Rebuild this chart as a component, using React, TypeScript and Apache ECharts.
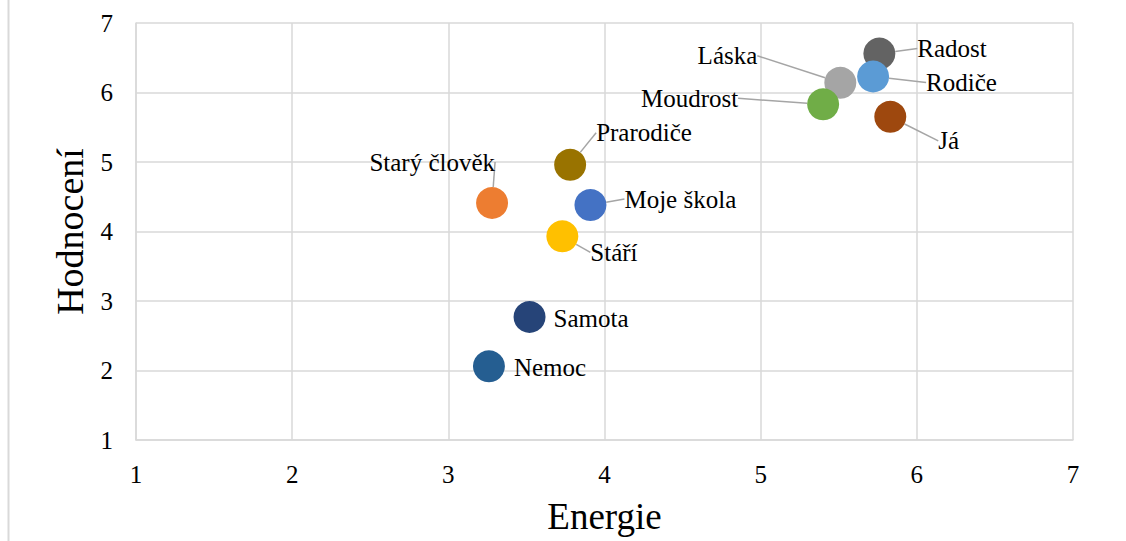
import React, { useEffect, useRef } from "react";
import * as echarts from "echarts";

const names = ["Radost", "Láska", "Rodiče", "Moudrost", "Já", "Prarodiče", "Starý člověk", "Moje škola", "Stáří", "Samota", "Nemoc"];
const energie = [5.76, 5.51, 5.72, 5.40, 5.83, 3.78, 3.28, 3.91, 3.73, 3.52, 3.26];
const hodnoceni = [6.56, 6.14, 6.23, 5.83, 5.65, 4.96, 4.41, 4.38, 3.93, 2.77, 2.06];
const colors = ["#636363", "#a5a5a5", "#5b9bd5", "#70ad47", "#9e480e", "#997300", "#ed7d31", "#4472c4", "#ffc000", "#264478", "#255e91"];
const ticks = [1, 2, 3, 4, 5, 6, 7];

// label placement (position side, offsets, leader line)
const labelPos: Record<string, [string, number, number, boolean]> = {
  "Radost": ["right", 17, -5, true],
  "Láska": ["left", -62, -27, true],
  "Rodiče": ["right", 32, 6, true],
  "Moudrost": ["left", -64, -6, true],
  "Já": ["right", 27, 24, true],
  "Prarodiče": ["right", 5, -32, true],
  "Starý člověk": ["left", 24, -41, true],
  "Moje škola": ["right", 13, -6, true],
  "Stáří": ["right", 7, 16, true],
  "Samota": ["right", 3, 2, false],
  "Nemoc": ["right", 4, 1, false],
};

const FONT = "'Liberation Serif', 'Times New Roman', serif";

export default function App() {
  const ref = useRef<HTMLDivElement>(null);
  useEffect(() => {
    document.body.style.margin = "0";
    const chart = echarts.init(ref.current!, null, { renderer: "svg" });
    const data = names.map((n, i) => {
      const p = labelPos[n];
      return {
        name: n,
        value: [energie[i], hodnoceni[i]],
        itemStyle: { color: colors[i], opacity: 1 },
        label: { position: p[0] },
        labelLine: { show: p[3] },
      };
    });
    chart.setOption({
      animation: false,
      backgroundColor: "#ffffff",
      grid: { left: 136, right: 53, top: 23, bottom: 101 },
      graphic: [
        { type: "line", shape: { x1: 8.5, y1: 0, x2: 8.5, y2: 541 }, style: { stroke: "#d9d9d9", lineWidth: 2 } },
      ],
      xAxis: {
        type: "value",
        min: 1,
        max: 7,
        interval: 1,
        name: "Energie",
        nameLocation: "middle",
        nameGap: 58,
        nameTextStyle: { fontFamily: FONT, fontSize: 37, color: "#000" },
        axisLine: { show: true, lineStyle: { color: "#d9d9d9", width: 1.5 } },
        axisTick: { show: false },
        splitLine: { show: true, lineStyle: { color: "#d9d9d9", width: 1.5 } },
        axisLabel: { show: true, margin: 22, fontSize: 25, fontFamily: FONT, color: "#000" },
      },
      yAxis: {
        type: "value",
        min: 1,
        max: 7,
        interval: 1,
        name: "Hodnocení",
        nameLocation: "middle",
        nameGap: 47,
        nameTextStyle: { fontFamily: FONT, fontSize: 38, color: "#000" },
        axisLine: { show: true, lineStyle: { color: "#d9d9d9", width: 1.5 } },
        axisTick: { show: false },
        splitLine: { show: true, lineStyle: { color: "#d9d9d9", width: 1.5 } },
        axisLabel: { show: true, margin: 23, fontSize: 25, fontFamily: FONT, color: "#000" },
      },
      series: [
        {
          type: "scatter",
          symbolSize: 32,
          data,
          itemStyle: { opacity: 1 },
          label: {
            show: true,
            formatter: "{b}",
            fontFamily: FONT,
            fontSize: 25,
            color: "#000",
            distance: 5,
          },
          labelLine: { show: true, lineStyle: { color: "#a5a5a5", width: 1.5 } },
          labelLayout: (params: any) => {
            const p = labelPos[names[params.dataIndex]];
            return { dx: p[1], dy: p[2] };
          },
        },
      ],
    });
    return () => chart.dispose();
  }, []);
  return <div ref={ref} style={{ position: "absolute", left: 0, top: 0, width: 1126, height: 541 }} />;
}
